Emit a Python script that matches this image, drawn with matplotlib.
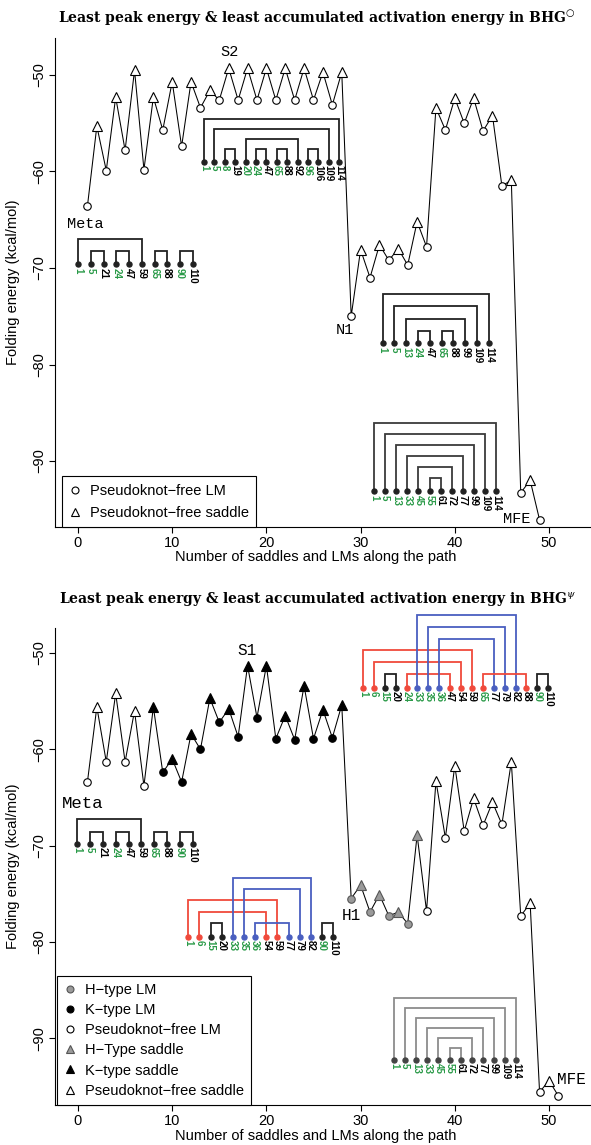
import matplotlib
matplotlib.use("Agg")
import matplotlib.pyplot as plt
from matplotlib.lines import Line2D
import numpy as np

plt.rcParams['font.family'] = ['Liberation Sans', 'DejaVu Sans']
plt.rcParams['mathtext.fontset'] = 'dejavuserif'

# ---------------- data ----------------
top_x = list(range(1, 50))
top_energy = [-63.6, -55.3, -59.9, -52.3, -57.8, -49.5, -59.8, -52.3, -55.7, -50.7,
              -57.4, -50.7, -53.4, -51.6, -52.6, -49.3, -52.6, -49.3, -52.6, -49.3,
              -52.6, -49.3, -52.6, -49.3, -52.6, -49.7, -53.1, -49.7, -75.0, -68.1,
              -71.0, -67.6, -69.2, -68.0, -69.7, -65.2, -67.8, -53.4, -55.7, -52.4,
              -55.0, -52.4, -55.8, -54.2, -61.5, -60.9, -93.3, -92.0, -96.1]
top_type = ['free'] * 49

bot_x = list(range(1, 52))
bot_energy = [-63.4, -55.6, -61.3, -54.2, -61.3, -56.0, -63.8, -55.6, -62.4, -61.0,
              -63.4, -58.4, -60.0, -54.7, -57.2, -55.8, -58.7, -51.3, -56.7, -51.3,
              -58.9, -56.5, -59.0, -53.4, -58.9, -55.9, -58.8, -55.4, -75.5, -74.1,
              -76.9, -75.1, -77.3, -76.9, -78.1, -68.9, -76.8, -63.3, -69.2, -61.7,
              -68.5, -65.1, -67.9, -65.5, -67.8, -61.3, -77.3, -76.0, -95.6, -94.4, -96.0]
bot_type = ['free'] * 7 + ['K'] * 21 + ['H'] * 8 + ['free'] * 15

xticks = [0, 10, 20, 30, 40, 50]
yticks = [-50, -60, -70, -80, -90]

# secondary-structure insets: labels (nucleotide positions), base pairs, nesting level, colour
meta_labels = [1, 5, 21, 24, 47, 59, 65, 88, 90, 110]
meta_pairs = [(0, 5), (1, 2), (3, 4), (6, 7), (8, 9)]
meta_levels = [2, 1, 1, 1, 1]

s2_labels = [1, 5, 8, 19, 20, 24, 47, 65, 88, 92, 96, 106, 109, 114]
s2_pairs = [(0, 13), (1, 12), (2, 3), (4, 9), (5, 6), (7, 8), (10, 11)]
s2_levels = [4, 3, 1, 2, 1, 1, 1]

n1_labels = [1, 5, 13, 24, 47, 65, 88, 99, 109, 114]
n1_pairs = [(0, 9), (1, 8), (2, 7), (3, 4), (5, 6)]
n1_levels = [4, 3, 2, 1, 1]

mfe_labels = [1, 5, 13, 33, 45, 55, 61, 72, 77, 99, 109, 114]
mfe_pairs = [(0, 11), (1, 10), (2, 9), (3, 8), (4, 7), (5, 6)]
mfe_levels = [6, 5, 4, 3, 2, 1]

s1_labels = [1, 6, 15, 20, 24, 33, 35, 36, 47, 54, 59, 65, 77, 79, 82, 88, 90, 110]
s1_pairs = [(0, 10), (1, 9), (2, 3), (4, 8), (5, 14), (6, 13), (7, 12), (11, 15), (16, 17)]
s1_levels = [3, 2, 1, 1, 6, 5, 4, 1, 1]
s1_colors = ['red', 'red', 'black', 'red', 'blue', 'blue', 'blue', 'red', 'black']

h1_labels = [1, 6, 15, 20, 33, 35, 36, 54, 59, 77, 79, 82, 90, 110]
h1_pairs = [(0, 8), (1, 7), (2, 3), (4, 11), (5, 10), (6, 9), (12, 13)]
h1_levels = [3, 2, 1, 5, 4, 1, 1]
h1_colors = ['red', 'red', 'black', 'blue', 'blue', 'blue', 'black']

# ---------------- styling ----------------
W, H = 591, 1145
fig = plt.figure(figsize=(W / 100, H / 100), dpi=100)

COL = {'red': '#f04a3c', 'blue': '#4a5fc0', 'black': '#222222', 'grey': '#8a8a8a'}
GREEN = '#2a9a48'


def px_axes(l, r, t, b):
    return fig.add_axes([l / W, 1 - b / H, (r - l) / W, (b - t) / H])


ax1 = px_axes(55, 591, 38, 527)
ax2 = px_axes(55, 591, 628, 1105)
ax1.set_xlim(-2.4416, 54.459)
ax1.set_ylim(-96.839, -46.166)
ax2.set_xlim(-2.4416, 54.459)
ax2.set_ylim(-96.937, -47.404)

for ax in (ax1, ax2):
    for s in ('top', 'right'):
        ax.spines[s].set_visible(False)
    for s in ('left', 'bottom'):
        ax.spines[s].set_linewidth(0.8)
    ax.set_xticks(xticks)
    ax.set_yticks(yticks)
    ax.tick_params(direction='out', length=4.5, width=0.8, labelsize=10.5, pad=2)
    ax.tick_params(axis='y', labelrotation=90)
    for lab in ax.get_yticklabels():
        lab.set_va('center')
    ax.set_xlabel('Number of saddles and LMs along the path', fontsize=10.5, va='center')
    ax.set_ylabel('Folding energy (kcal/mol)', fontsize=10.5)

ax1.yaxis.set_label_coords(-(55 - 20) / 536, 0.5)
ax2.yaxis.set_label_coords(-(55 - 20) / 536, 0.5)
ax1.xaxis.set_label_coords((316 - 55) / 536, -(557 - 527) / 489)
ax2.xaxis.set_label_coords((316 - 55) / 536, -(1136 - 1105) / 477)

FACE = {'free': 'white', 'K': 'black', 'H': '#9a9a9a'}
EDGE = {'free': 'black', 'K': 'black', 'H': '#555555'}


def draw_path(ax, xs, es, types):
    ax.plot(xs, es, color='black', lw=0.75, zorder=2)
    for x, e, t in zip(xs, es, types):
        if x % 2 == 1:
            ax.plot(x, e, marker='o', ms=5.4, mfc=FACE[t], mec=EDGE[t], mew=0.8, zorder=3, ls='none')
        else:
            ax.plot(x, e, marker='^', ms=6.8, mfc=FACE[t], mec=EDGE[t], mew=0.8, zorder=3, ls='none')


draw_path(ax1, top_x, top_energy, top_type)
draw_path(ax2, bot_x, bot_energy, bot_type)


def draw_structure(ax, anchor, labels, pairs, levels, colors=None, spacing=11.0,
                   base=13.0, step=11.5, arc_col=None, dot_col=None, fs=7.0):
    x0, y0 = ax.transData.transform(anchor)
    inv = ax.transData.inverted()
    n = len(labels)
    if colors is None:
        colors = ['black'] * len(pairs)
    dotc = ['black'] * n
    opener = [False] * n
    for (i, j), c in zip(pairs, colors):
        dotc[i] = c
        dotc[j] = c
        opener[i] = True
    for (i, j), lv, c in zip(pairs, levels, colors):
        h = base + step * (lv - 1)
        pts = np.array([[x0 + i * spacing, y0], [x0 + i * spacing, y0 + h],
                        [x0 + j * spacing, y0 + h], [x0 + j * spacing, y0]])
        d = inv.transform(pts)
        ax.plot(d[:, 0], d[:, 1], color=arc_col or COL[c], lw=1.3, clip_on=False,
                solid_joinstyle='miter', zorder=4)
    for k in range(n):
        dx, dy = inv.transform((x0 + k * spacing, y0))
        ax.plot(dx, dy, 'o', ms=3.6, color=dot_col or COL[dotc[k]], clip_on=False, zorder=5)
        lx, ly = inv.transform((x0 + k * spacing, y0 - 3.5))
        ax.text(lx, ly, str(labels[k]), rotation=-90, ha='center', va='top', fontsize=fs,
                fontweight='bold', color=GREEN if opener[k] else 'black', clip_on=False)


# top panel insets (anchors = first nucleotide dot, in data coordinates)
draw_structure(ax1, (13.376, -58.984), s2_labels, s2_pairs, s2_levels, spacing=10.4, base=12.4, step=10)
draw_structure(ax1, (0.032, -69.617), meta_labels, meta_pairs, meta_levels, spacing=12.7, base=13.5, step=12)
draw_structure(ax1, (32.346, -77.803), n1_labels, n1_pairs, n1_levels, spacing=11.8, base=12.6, step=12.2)
draw_structure(ax1, (31.423, -93.109), mfe_labels, mfe_pairs, mfe_levels, spacing=11.1, base=12.7, step=11,
               arc_col='#3a3a3a')

# bottom panel insets
draw_structure(ax2, (30.255, -53.634), s1_labels, s1_pairs, s1_levels, s1_colors, spacing=10.9, base=14, step=11.8)
draw_structure(ax2, (11.709, -79.491), h1_labels, h1_pairs, h1_levels, h1_colors, spacing=11.15, base=14, step=11.3)
draw_structure(ax2, (-0.074, -69.834), meta_labels, meta_pairs, meta_levels, spacing=12.8, base=12.3, step=12.4)
draw_structure(ax2, (33.546, -92.264), mfe_labels, mfe_pairs, mfe_levels, spacing=11.1, base=12, step=10,
               arc_col='#8c8c8c', dot_col='#444444')

MONO = ['Liberation Mono', 'DejaVu Sans Mono']
ax1.text(16.03, -47.62, 'S2', family=MONO, fontsize=11, ha='center', va='center')
ax1.text(-1.168, -65.44, 'Meta', family=MONO, fontsize=11, ha='left', va='center')
ax1.text(27.39, -76.42, 'N1', family=MONO, fontsize=11, ha='left', va='center')
ax1.text(45.12, -96.01, 'MFE', family=MONO, fontsize=11, ha='left', va='center', clip_on=False)

ax2.text(17.94, -49.79, 'S1', family=MONO, fontsize=11.5, ha='center', va='center')
ax2.text(28.03, -77.31, 'H1', family=MONO, fontsize=11.5, ha='left', va='center')
ax2.text(-1.70, -65.58, 'Meta', family=MONO, fontsize=12.5, ha='left', va='center')
ax2.text(50.85, -94.34, 'MFE', family=MONO, fontsize=11.5, ha='left', va='center', clip_on=False)


def mk(marker, face, edge):
    return Line2D([], [], ls='none', marker=marker, ms=5 if marker == 'o' else 6,
                  mfc=face, mec=edge, mew=0.8)


leg_kw = dict(loc='lower left', frameon=True, fancybox=False, edgecolor='black',
              fontsize=10.5, handlelength=0.8, handletextpad=0.6, borderaxespad=0,
              borderpad=0.5, framealpha=1)
l1 = ax1.legend([mk('o', 'white', 'black'), mk('^', 'white', 'black')],
                ['Pseudoknot\u2212free LM', 'Pseudoknot\u2212free saddle'],
                bbox_to_anchor=((62 - 55) / 536, 0), labelspacing=0.55, **leg_kw)
l1.get_frame().set_linewidth(0.8)
l2 = ax2.legend([mk('o', '#9a9a9a', '#555555'), mk('o', 'black', 'black'), mk('o', 'white', 'black'),
                 mk('^', '#9a9a9a', '#555555'), mk('^', 'black', 'black'), mk('^', 'white', 'black')],
                ['H\u2212type LM', 'K\u2212type LM', 'Pseudoknot\u2212free LM',
                 'H\u2212Type saddle', 'K\u2212type saddle', 'Pseudoknot\u2212free saddle'],
                bbox_to_anchor=((57 - 55) / 536, 0), labelspacing=0.42, **leg_kw)
l2.get_frame().set_linewidth(0.8)

TFONT = dict(family='DejaVu Serif', fontweight='bold', fontsize=10, ha='center', va='center')
fig.text(317 / W, 1 - 18 / H, r'Least peak energy & least accumulated activation energy in BHG$^{\bigcirc}$', **TFONT)
fig.text(317 / W, 1 - 600 / H, r'Least peak energy & least accumulated activation energy in BHG$^{\psi}$', **TFONT)

fig.savefig('out.png', dpi=100)
